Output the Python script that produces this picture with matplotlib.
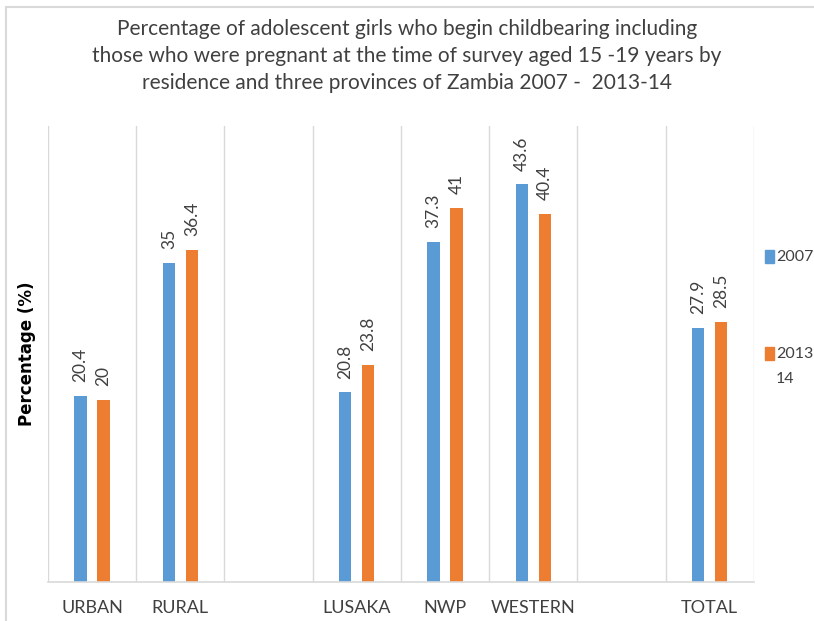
import numpy as np
import matplotlib.pyplot as plt
from matplotlib.patches import Rectangle

categories = ['URBAN', 'RURAL', '', 'LUSAKA', 'NWP', 'WESTERN', '', 'TOTAL']
y2007 = [20.4, 35, np.nan, 20.8, 37.3, 43.6, np.nan, 27.9]
y2013 = [20, 36.4, np.nan, 23.8, 41, 40.4, np.nan, 28.5]
series_labels = ['2007', '2013\n14']
colors = ['#5b9bd5', '#ed7d31']

title = ('Percentage of adolescent girls who begin childbearing including\n'
         'those who were pregnant at the time of survey aged 15 -19 years by\n'
         'residence and three provinces of Zambia 2007 -  2013-14')

plt.rcParams['font.family'] = ['Lato', 'DejaVu Sans']

fig = plt.figure(figsize=(8.14, 6.21), dpi=100)
ax = fig.add_axes([0.059, 0.063, 0.867, 0.734])

x = np.arange(len(categories))
w = 0.14
off = 0.13
ax.bar(x - off, y2007, w, color=colors[0])
ax.bar(x + off, y2013, w, color=colors[1])

for xs, vals in ((x - off, y2007), (x + off, y2013)):
    for xi, v in zip(xs, vals):
        if np.isnan(v):
            continue
        ax.text(xi, v + 1.5, f'{v:g}', rotation=90, ha='center', va='bottom',
                fontsize=12.5, color='#404040')

ax.set_xlim(-0.5, len(categories) - 0.5)
ax.set_ylim(0, 50)
ax.set_yticks([])
ax.set_xticks(x)
ax.set_xticklabels(categories, fontsize=13, color='#404040')
ax.tick_params(axis='x', length=0, pad=13)
ax.set_xticks(np.arange(-0.5, len(categories)), minor=True)
ax.tick_params(axis='x', which='minor', length=0)
ax.grid(axis='x', which='minor', color='#d9d9d9', linewidth=1)
ax.set_axisbelow(True)
for s in ['top', 'right', 'left']:
    ax.spines[s].set_visible(False)
ax.spines['bottom'].set_color('#d9d9d9')
ax.spines['bottom'].set_linewidth(1.2)

ax.set_ylabel('Percentage (%)', fontsize=12, fontweight='bold', family='DejaVu Sans',
              labelpad=9)

fig.suptitle(title, y=0.97, fontsize=15, color='#404040', linespacing=1.45)

# legend drawn by hand to the right of the plot
leg_y = [0.586, 0.43]
for lab, col, ly in zip(series_labels, colors, leg_y):
    fig.patches.append(Rectangle((0.9395, ly - 0.01), 0.011, 0.021,
                                 transform=fig.transFigure, color=col))
    fig.text(0.9535, ly + 0.012, lab, ha='left', va='top', fontsize=11.5,
             color='#404040', linespacing=2.0)

fig.patches.append(Rectangle((0.007, -0.02), 1.1, 1.009, transform=fig.transFigure,
                             fill=False, edgecolor='#d9d9d9', linewidth=1.5))

fig.savefig('out.png', dpi=100)
